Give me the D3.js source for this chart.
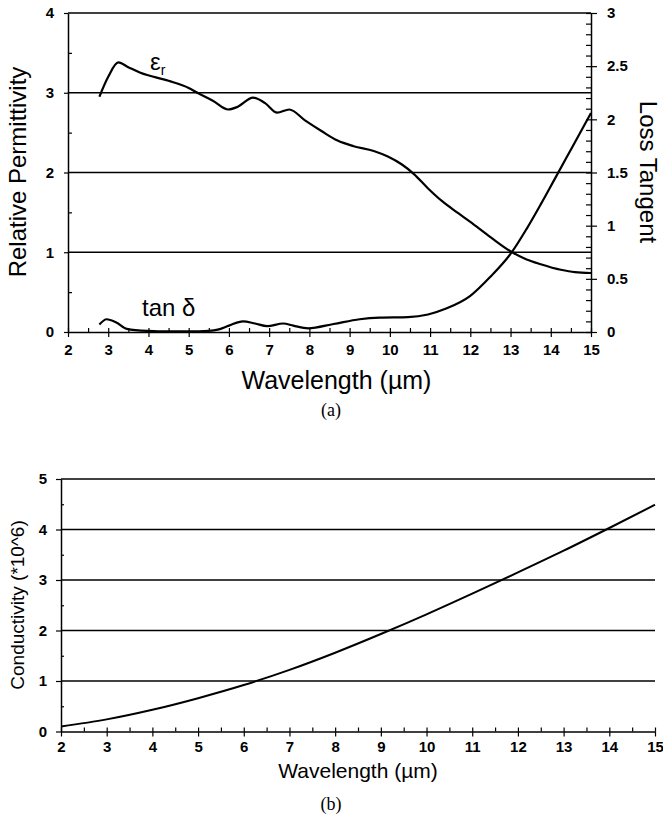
<!DOCTYPE html>
<html><head><meta charset="utf-8">
<script src="https://cdn.jsdelivr.net/npm/d3@7"></script>
<style>
html,body{margin:0;padding:0;background:#fff;}
svg{display:block;}
text{font-family:"Liberation Sans",Arial,sans-serif;fill:#000;}
.tick text{font-weight:bold;font-size:15px;}
.domain{stroke:#000;stroke-width:1.5;}
.tick line{stroke:#000;stroke-width:1.2;}
</style></head>
<body>
<svg id="c" width="663" height="823"></svg>
<script>
// ---- data (top chart) ----
const epsWavelength = [2.78,3.0,3.25,3.5,3.8,4.5,5.0,5.25,5.6,5.98,6.2,6.6,6.9,7.2,7.5,7.9,8.3,8.7,9.1,9.6,9.95,10.3,10.6,10.95,11.3,11.7,12.0,12.5,13.04,13.4,13.75,14.25,14.6,15.0];
const permittivity  = [2.95,3.2,3.38,3.32,3.25,3.15,3.06,2.99,2.9,2.79,2.82,2.94,2.87,2.75,2.79,2.65,2.52,2.4,2.33,2.27,2.2,2.1,1.98,1.8,1.64,1.49,1.38,1.19,1.0,0.91,0.85,0.78,0.75,0.74];
const tanWavelength = [2.78,2.96,3.2,3.46,4.0,4.5,5.0,5.5,5.75,6.0,6.35,6.65,6.95,7.35,7.6,7.97,8.6,9.25,9.75,10.45,10.95,11.4,12.0,12.5,13.04,13.4,13.75,14.1,14.55,15.0];
const lossTangent   = [0.07,0.12,0.09,0.03,0.01,0.005,0.005,0.01,0.025,0.06,0.1,0.08,0.055,0.08,0.06,0.035,0.075,0.12,0.135,0.14,0.165,0.22,0.34,0.52,0.755,0.97,1.2,1.44,1.75,2.06];
const xTicks = [2,3,4,5,6,7,8,9,10,11,12,13,14,15];
const leftTicks = [0,1,2,3,4];
const rightTicks = [0,0.5,1,1.5,2,2.5,3];
// ---- data (bottom chart) ----
const condWavelength = [2,3,4,5,6,7,8,9,10,11,12,13,14,15];
const conductivity   = [0.10,0.24,0.43,0.66,0.92,1.22,1.56,1.93,2.32,2.73,3.15,3.58,4.03,4.49];
const condTicks = [0,1,2,3,4,5];

const svg = d3.select("#c");

// ================= TOP CHART =================
const x = d3.scaleLinear().domain([2,15]).range([68,591]);
const yL = d3.scaleLinear().domain([0,4]).range([332,13]);
const yR = d3.scaleLinear().domain([0,3]).range([332,13]);
const gTop = svg.append("g");

gTop.selectAll("line.grid").data([1,2,3,4]).join("line")
  .attr("x1",x(2)).attr("x2",x(15)).attr("y1",d=>yL(d)).attr("y2",d=>yL(d))
  .attr("stroke","#000").attr("stroke-width",1.4);

const halfX = d3.range(2.5,15,1);
gTop.append("g").attr("transform",`translate(0,${yL(0)})`)
  .call(d3.axisBottom(x).tickValues(xTicks).tickSize(5).tickSizeOuter(0).tickPadding(7).tickFormat(d3.format("d")));
gTop.append("g").attr("transform",`translate(0,${yL(0)})`)
  .call(d3.axisTop(x).tickValues(xTicks.concat(halfX)).tickSize(4).tickSizeOuter(0).tickFormat(""))
  .select(".domain").remove();

gTop.append("g").attr("transform",`translate(${x(2)},0)`)
  .call(d3.axisLeft(yL).tickValues(leftTicks).tickSize(4).tickSizeOuter(0).tickPadding(10).tickFormat(d3.format("d")));
gTop.append("g").attr("transform",`translate(${x(2)},0)`)
  .call(d3.axisRight(yL).tickValues([0.5,1.5,2.5,3.5]).tickSize(4).tickSizeOuter(0).tickFormat(""))
  .select(".domain").remove();

gTop.append("g").attr("transform",`translate(${x(15)},0)`)
  .call(d3.axisRight(yR).tickValues(rightTicks).tickSize(6).tickSizeOuter(0).tickPadding(10).tickFormat(d=>String(d)));
gTop.append("g").attr("transform",`translate(${x(15)},0)`)
  .call(d3.axisLeft(yR).tickValues(d3.range(0,30.5,1).map(v=>v/10)).tickSize(5).tickSizeOuter(0).tickFormat(""))
  .select(".domain").remove();

const lineEps = d3.line().x((d,i)=>x(epsWavelength[i])).y(d=>yL(d)).curve(d3.curveMonotoneX);
const lineTan = d3.line().x((d,i)=>x(tanWavelength[i])).y(d=>yR(d)).curve(d3.curveMonotoneX);
gTop.append("path").attr("d",lineEps(permittivity)).attr("fill","none").attr("stroke","#000").attr("stroke-width",2.2);
gTop.append("path").attr("d",lineTan(lossTangent)).attr("fill","none").attr("stroke","#000").attr("stroke-width",2.2);

const epsLab = gTop.append("text").attr("x",150).attr("y",70).style("font-size","24px");
epsLab.append("tspan").text("ε");
epsLab.append("tspan").attr("dy",5).style("font-size","14px").text("r");
gTop.append("text").attr("x",142).attr("y",316).style("font-size","24px").text("tan δ");

gTop.append("text").attr("transform","translate(26,172) rotate(-90)").attr("text-anchor","middle")
  .style("font-size","24px").text("Relative Permittivity");
gTop.append("text").attr("transform","translate(640,172) rotate(90)").attr("text-anchor","middle")
  .style("font-size","24px").text("Loss Tangent");
gTop.append("text").attr("x",(x(2)+x(15))/2+7).attr("y",389).attr("text-anchor","middle")
  .style("font-size","25px").text("Wavelength (µm)");
gTop.append("text").attr("x",331).attr("y",416).attr("text-anchor","middle")
  .style("font-family","'Liberation Serif','Times New Roman',serif").style("font-size","18px").text("(a)");

// ================= BOTTOM CHART =================
const x2 = d3.scaleLinear().domain([2,15]).range([61,655]);
const y2 = d3.scaleLinear().domain([0,5]).range([731.5,479]);
const gBot = svg.append("g");

gBot.selectAll("line.grid").data([1,2,3,4,5]).join("line")
  .attr("x1",x2(2)).attr("x2",x2(15)).attr("y1",d=>y2(d)).attr("y2",d=>y2(d))
  .attr("stroke","#000").attr("stroke-width",1.4);

gBot.append("g").attr("transform",`translate(0,${y2(0)})`)
  .call(d3.axisBottom(x2).tickValues(condWavelength).tickSize(5).tickSizeOuter(0).tickPadding(5).tickFormat(d3.format("d")));
gBot.append("g").attr("transform",`translate(0,${y2(0)})`)
  .call(d3.axisTop(x2).tickValues(condWavelength.concat(d3.range(2.5,15,1))).tickSize(4).tickSizeOuter(0).tickFormat(""))
  .select(".domain").remove();

gBot.append("g").attr("transform",`translate(${x2(2)},0)`)
  .call(d3.axisLeft(y2).tickValues(condTicks).tickSize(5).tickSizeOuter(0).tickPadding(9).tickFormat(d3.format("d")));
gBot.append("g").attr("transform",`translate(${x2(2)},0)`)
  .call(d3.axisRight(y2).tickValues([0.5,1.5,2.5,3.5,4.5]).tickSize(3).tickSizeOuter(0).tickFormat(""))
  .select(".domain").remove();

const lineCond = d3.line().x((d,i)=>x2(condWavelength[i])).y(d=>y2(d)).curve(d3.curveMonotoneX);
gBot.append("path").attr("d",lineCond(conductivity)).attr("fill","none").attr("stroke","#000").attr("stroke-width",2);

gBot.append("text").attr("transform","translate(24,605) rotate(-90)").attr("text-anchor","middle")
  .style("font-size","19px").text("Conductivity (*10^6)");
gBot.append("text").attr("x",(x2(2)+x2(15))/2).attr("y",778).attr("text-anchor","middle")
  .style("font-size","21px").text("Wavelength (µm)");
gBot.append("text").attr("x",331).attr("y",810).attr("text-anchor","middle")
  .style("font-family","'Liberation Serif','Times New Roman',serif").style("font-size","18px").text("(b)");
</script>
</body></html>
